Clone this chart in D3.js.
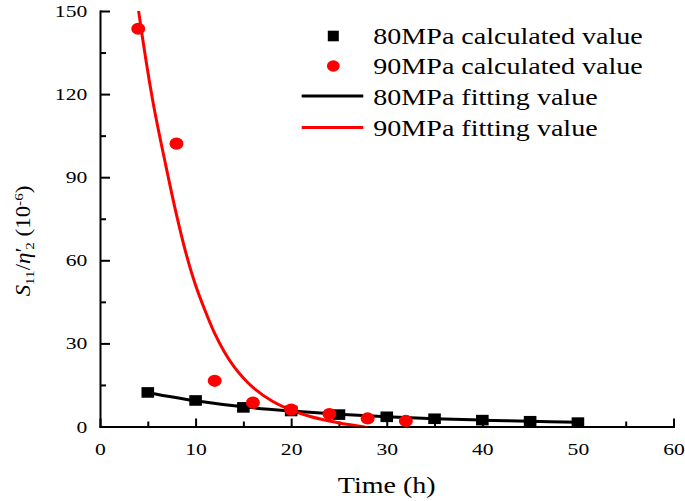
<!DOCTYPE html>
<html><head><meta charset="utf-8">
<script src="https://cdn.jsdelivr.net/npm/d3@7"></script>
<style>html,body{margin:0;padding:0;background:#fff;} svg{display:block;}</style>
</head><body>
<svg id="chart" width="685" height="501"></svg>
<script>
// ---- data ----
const hours80 = [5, 10, 15, 20, 25, 30, 35, 40, 45, 50];
const calc80  = [12.3, 9.4, 6.9, 5.6, 4.3, 3.5, 2.8, 2.3, 1.9, 1.4];
const fit80   = [12.2, 9.3, 7.1, 5.6, 4.4, 3.5, 2.8, 2.3, 1.9, 1.5];
const hours90 = [4, 8, 12, 16, 20, 24, 28, 32];
const calc90  = [143.6, 102.1, 16.5, 8.6, 6.1, 4.5, 2.9, 2.0];
const fitHours90 = [3.6, 4.04, 5.5, 6.9, 8, 9, 10, 11, 12, 13, 14, 15, 16, 18, 20, 22, 24, 26, 28];
const fit90      = [162, 150, 118, 94, 76.5, 62.5, 51, 41.8, 33.6, 27, 21.7, 17.5, 14.1, 9.2, 5.9, 3.6, 2.0, 0.7, -0.4];
const xTicks = [0, 10, 20, 30, 40, 50, 60];
const xMinorTicks = [5, 15, 25, 35, 45, 55];
const yTicks = [0, 30, 60, 90, 120, 150];
const yMinorTicks = [15, 45, 75, 105, 135];
const legendLabels = ["80MPa calculated value", "90MPa calculated value", "80MPa fitting value", "90MPa fitting value"];
const xTitle = "Time (h)";

const FONT = "Liberation Serif, Times New Roman, serif";
const RED = "#ff0000", BLACK = "#000000";

const svg = d3.select("#chart");
svg.append("rect").attr("width", 685).attr("height", 501).attr("fill", "#fff");

const x = d3.scaleLinear().domain([0, 60]).range([100, 673.5]);
const y = d3.scaleLinear().domain([0, 150]).range([426.5, 11]);

svg.append("clipPath").attr("id", "plotclip").append("rect")
  .attr("x", x(0)).attr("y", y(150)).attr("width", x(60) - x(0)).attr("height", y(0) - y(150));

// ---- axes ----
const styleAxis = g => {
  g.attr("font-family", FONT).attr("font-size", 17.3);
  g.selectAll("line").attr("stroke", BLACK).attr("stroke-width", 2);
  g.selectAll("path").attr("stroke", BLACK).attr("stroke-width", 2).attr("stroke-linecap", "square");
  g.selectAll("text").attr("fill", BLACK);
};

// minor ticks
svg.append("g").attr("transform", `translate(0,${y(0)})`)
  .call(d3.axisBottom(x).tickValues(xMinorTicks).tickSize(-5).tickFormat(""))
  .call(styleAxis).call(g => g.select(".domain").remove());
svg.append("g").attr("transform", `translate(${x(0)},0)`)
  .call(d3.axisLeft(y).tickValues(yMinorTicks).tickSize(-6).tickFormat(""))
  .call(styleAxis).call(g => g.select(".domain").remove());

// major
const gx = svg.append("g").attr("transform", `translate(0,${y(0)})`)
  .call(d3.axisBottom(x).tickValues(xTicks).tickSizeInner(-8).tickSizeOuter(0).tickPadding(16).tickFormat(d3.format("d")))
  .call(styleAxis);
gx.selectAll("text").attr("transform", "scale(1.25,1)");

const gy = svg.append("g").attr("transform", `translate(${x(0)},0)`)
  .call(d3.axisLeft(y).tickValues(yTicks).tickSizeInner(-10).tickSizeOuter(0).tickPadding(10.2).tickFormat(d3.format("d")))
  .call(styleAxis);
gy.selectAll("text").attr("transform", "scale(1.25,1)");

// axis titles
svg.append("g").attr("transform", `translate(${(x(0) + x(60)) / 2},493) scale(1.22,1)`)
  .append("text").attr("text-anchor", "middle").attr("font-family", FONT).attr("font-size", 23)
  .attr("fill", BLACK).text(xTitle);

const yt = svg.append("g").attr("transform", "translate(30,241) rotate(-90) scale(1.12,1)")
  .append("text").attr("text-anchor", "middle").attr("font-family", FONT).attr("font-size", 20.5).attr("fill", BLACK);
yt.append("tspan").attr("font-style", "italic").text("S");
yt.append("tspan").attr("font-size", 13.5).attr("dy", 4).text("11");
yt.append("tspan").attr("dy", -4).text("/");
yt.append("tspan").attr("font-style", "italic").text("η");
yt.append("tspan").text("′");
yt.append("tspan").attr("font-size", 13.5).attr("dy", 4).attr("dx", -2).text("2");
yt.append("tspan").attr("dy", -4).text(" (10");
yt.append("tspan").attr("font-size", 13.5).attr("dy", -7.5).text("-6");
yt.append("tspan").attr("dy", 7.5).text(")");

// ---- data ----
const plot = svg.append("g").attr("clip-path", "url(#plotclip)");

const d80 = hours80.map((h, i) => ({h, v: calc80[i]}));
const d90 = hours90.map((h, i) => ({h, v: calc90[i]}));
const f80 = hours80.map((h, i) => ({h, v: fit80[i]}));
const f90 = fitHours90.map((h, i) => ({h, v: fit90[i]}));

const line = d3.line().x(d => x(d.h)).y(d => y(d.v)).curve(d3.curveCatmullRom.alpha(0.5));

svg.append("g").selectAll("rect").data(d80).join("rect")
  .attr("x", d => x(d.h) - 6.3).attr("y", d => y(d.v) - 5.3)
  .attr("width", 12.6).attr("height", 10.6).attr("fill", BLACK);
svg.append("g").selectAll("ellipse").data(d90).join("ellipse")
  .attr("cx", d => x(d.h)).attr("cy", d => y(d.v)).attr("rx", 7).attr("ry", 6.1).attr("fill", RED);

plot.append("path").datum(f80).attr("d", line).attr("fill", "none")
  .attr("stroke", BLACK).attr("stroke-width", 3);
plot.append("path").datum(f90).attr("d", line).attr("fill", "none")
  .attr("stroke", RED).attr("stroke-width", 3);

// ---- legend ----
const legRows = [36, 66, 96, 127.5];
const legBase = [43.5, 74, 104.5, 136];
const lg = svg.append("g");
lg.append("rect").attr("x", 333.3 - 5.5).attr("y", legRows[0] - 5.3).attr("width", 11).attr("height", 10.6).attr("fill", BLACK);
lg.append("ellipse").attr("cx", 333.3).attr("cy", legRows[1]).attr("rx", 6.4).attr("ry", 5.8).attr("fill", RED);
lg.append("line").attr("x1", 301.7).attr("x2", 363.3).attr("y1", legRows[2]).attr("y2", legRows[2])
  .attr("stroke", BLACK).attr("stroke-width", 3);
lg.append("line").attr("x1", 301.7).attr("x2", 363.3).attr("y1", legRows[3]).attr("y2", legRows[3])
  .attr("stroke", RED).attr("stroke-width", 3);
legendLabels.forEach((t, i) => {
  lg.append("g").attr("transform", `translate(373.3,${legBase[i]}) scale(1.22,1)`)
    .append("text").attr("font-family", FONT).attr("font-size", 23).attr("fill", BLACK).text(t);
});
</script>
</body></html>
